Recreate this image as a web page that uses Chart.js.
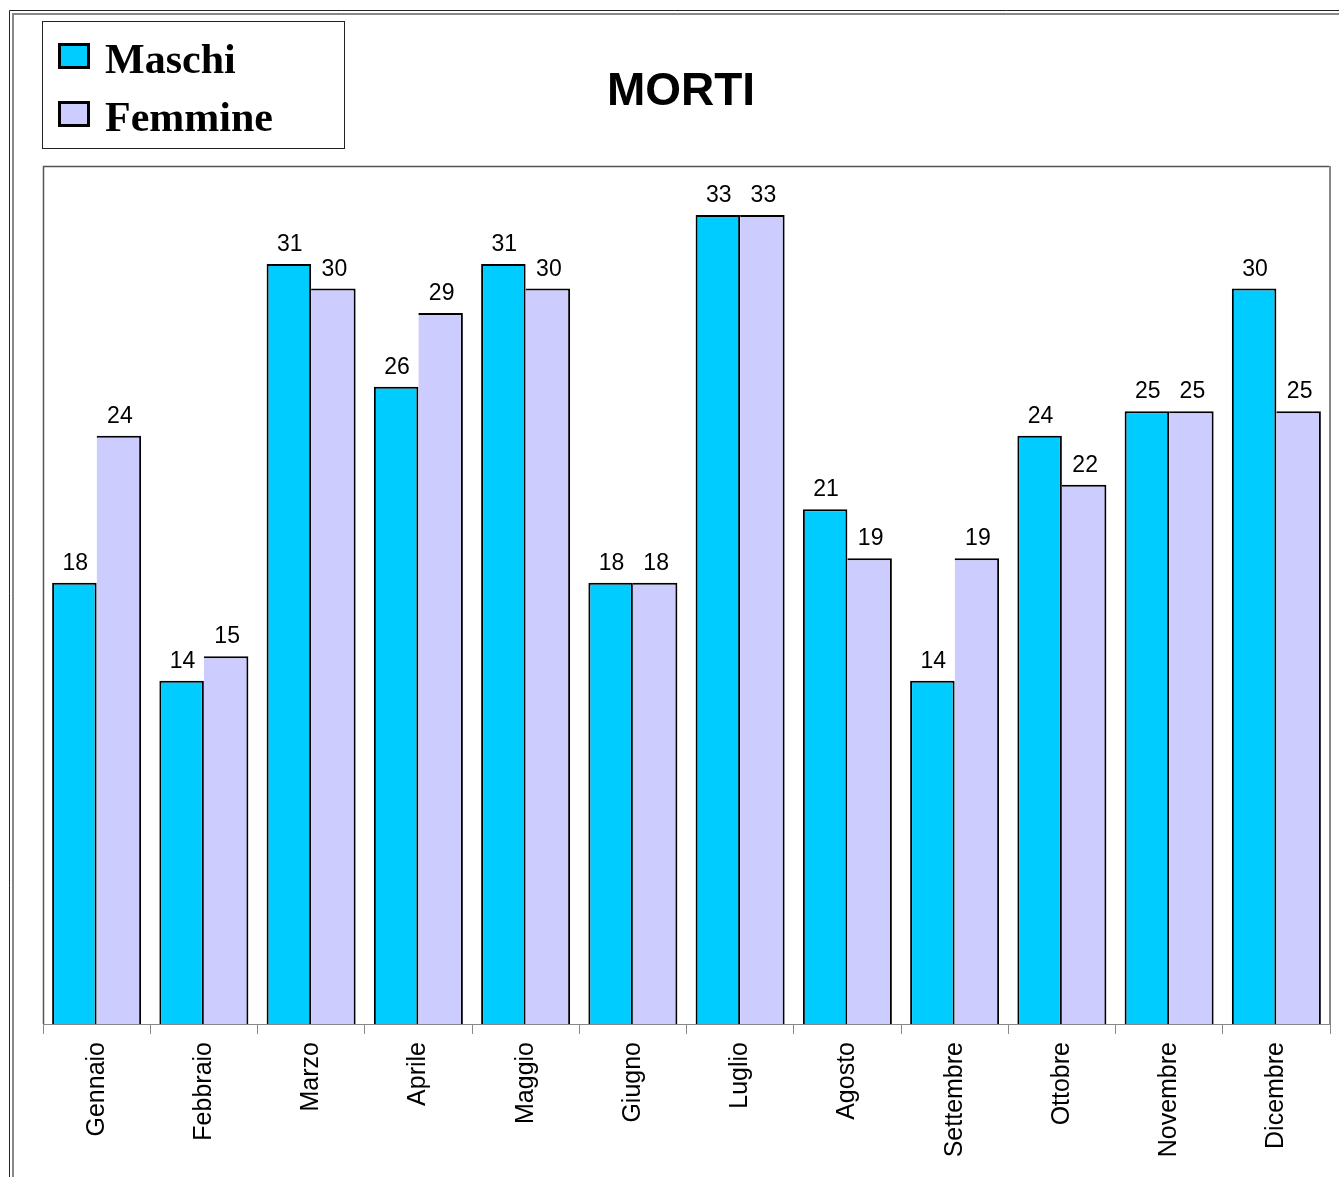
<!DOCTYPE html>
<html>
<head>
<meta charset="utf-8">
<title>MORTI</title>
<script src="https://cdn.jsdelivr.net/npm/chart.js@4/dist/chart.umd.min.js"></script>
<style>
  body { margin: 0; background: #fff; }
  #wrap { width: 1339px; height: 1177px; position: relative; }
</style>
</head>
<body>
<div id="wrap"><canvas id="mortiChart" width="1339" height="1177"></canvas></div>
<script>
// dati
const mesi = ['Gennaio', 'Febbraio', 'Marzo', 'Aprile', 'Maggio', 'Giugno',
              'Luglio', 'Agosto', 'Settembre', 'Ottobre', 'Novembre', 'Dicembre'];
const maschi = [18, 14, 31, 26, 31, 18, 33, 21, 14, 24, 25, 30];
const femmine = [24, 15, 30, 29, 30, 18, 33, 19, 19, 22, 25, 25];
const titolo = 'MORTI';

// cornice esterna + bordo area grafico
const cornice = {
    id: 'cornice',
    beforeDraw(chart) {
        const c = chart.ctx;
        const a = chart.chartArea;
        c.save();
        c.fillStyle = '#fff';
        c.fillRect(0, 0, chart.width, chart.height);
        // doppia linea esterna
        c.strokeStyle = '#222';
        c.lineWidth = 1;
        c.beginPath();
        c.moveTo(9.5, chart.height);
        c.lineTo(9.5, 10.5);
        c.lineTo(chart.width, 10.5);
        c.stroke();
        c.strokeStyle = '#888';
        c.lineWidth = 2;
        c.beginPath();
        c.moveTo(13, chart.height);
        c.lineTo(13, 14);
        c.lineTo(chart.width, 14);
        c.stroke();
        // bordo area grafico
        c.strokeStyle = '#555';
        c.lineWidth = 1.5;
        c.beginPath();
        c.moveTo(a.left + 0.5, a.bottom);
        c.lineTo(a.left + 0.5, a.top + 0.5);
        c.lineTo(a.right - 0.5, a.top + 0.5);
        c.stroke();
        c.strokeStyle = '#888';
        c.lineWidth = 2;
        c.beginPath();
        c.moveTo(a.right, a.top);
        c.lineTo(a.right, a.bottom);
        c.stroke();
        c.restore();
    }
};

// titolo e legenda disegnati a mano
const titoloLegenda = {
    id: 'titoloLegenda',
    afterDraw(chart) {
        const c = chart.ctx;
        c.save();
        c.fillStyle = '#000';
        c.font = 'bold 46px "Liberation Sans", Arial, sans-serif';
        c.textAlign = 'center';
        c.textBaseline = 'middle';
        c.fillText(titolo, 681, 92);

        c.strokeStyle = '#222';
        c.lineWidth = 1;
        c.strokeRect(42.5, 21.5, 302, 127);

        c.font = 'bold 42px "Liberation Serif", "Times New Roman", serif';
        c.textAlign = 'left';
        c.textBaseline = 'alphabetic';
        chart.data.datasets.forEach((ds, i) => {
            const y = 43 + i * 58;
            c.fillStyle = ds.backgroundColor;
            c.fillRect(58, y, 32, 26);
            c.strokeStyle = '#000';
            c.lineWidth = 3;
            c.strokeRect(59.5, y + 1.5, 29, 23);
            c.fillStyle = '#000';
            c.fillText(ds.label, 105, y + 30);
        });
        c.restore();
    }
};

// valori sopra le barre
const valori = {
    id: 'valori',
    afterDatasetsDraw(chart) {
        const c = chart.ctx;
        c.save();
        c.fillStyle = '#000';
        c.font = '23px "Liberation Sans", Arial, sans-serif';
        c.textAlign = 'center';
        c.textBaseline = 'alphabetic';
        chart.data.datasets.forEach((ds, i) => {
            chart.getDatasetMeta(i).data.forEach((bar, j) => {
                c.fillText(ds.data[j], bar.x + 1, bar.y - 13);
            });
        });
        c.restore();
    }
};

const ctx = document.getElementById('mortiChart').getContext('2d');
const mortiChart = new Chart(ctx, {
    type: 'bar',
    data: {
        labels: mesi,
        datasets: [{
            label: 'Maschi',
            data: maschi,
            backgroundColor: '#00CCFF',
            borderColor: '#000',
            borderWidth: 2
        }, {
            label: 'Femmine',
            data: femmine,
            backgroundColor: '#CCCCFF',
            borderColor: '#000',
            borderWidth: { top: 2, right: 2, bottom: 2, left: 0 }
        }]
    },
    options: {
        responsive: false,
        animation: false,
        devicePixelRatio: 1,
        layout: { padding: { left: 43, right: 9, top: 166, bottom: 0 } },
        datasets: { bar: { categoryPercentage: 0.83, barPercentage: 1.0 } },
        plugins: {
            legend: { display: false },
            title: { display: false },
            tooltip: { enabled: false }
        },
        scales: {
            x: {
                afterFit(scale) { scale.height = 153; },
                border: { display: true, color: '#888', width: 1 },
                grid: {
                    display: true,
                    drawOnChartArea: false,
                    offset: true,
                    color: '#888',
                    tickLength: 10
                },
                ticks: {
                    color: '#000',
                    font: { family: '"Liberation Sans", Arial, sans-serif', size: 25 },
                    minRotation: 90,
                    maxRotation: 90,
                    autoSkip: false,
                    padding: 8
                }
            },
            y: {
                display: false,
                min: 0,
                max: 35
            }
        }
    },
    plugins: [cornice, titoloLegenda, valori]
});
</script>
</body>
</html>
